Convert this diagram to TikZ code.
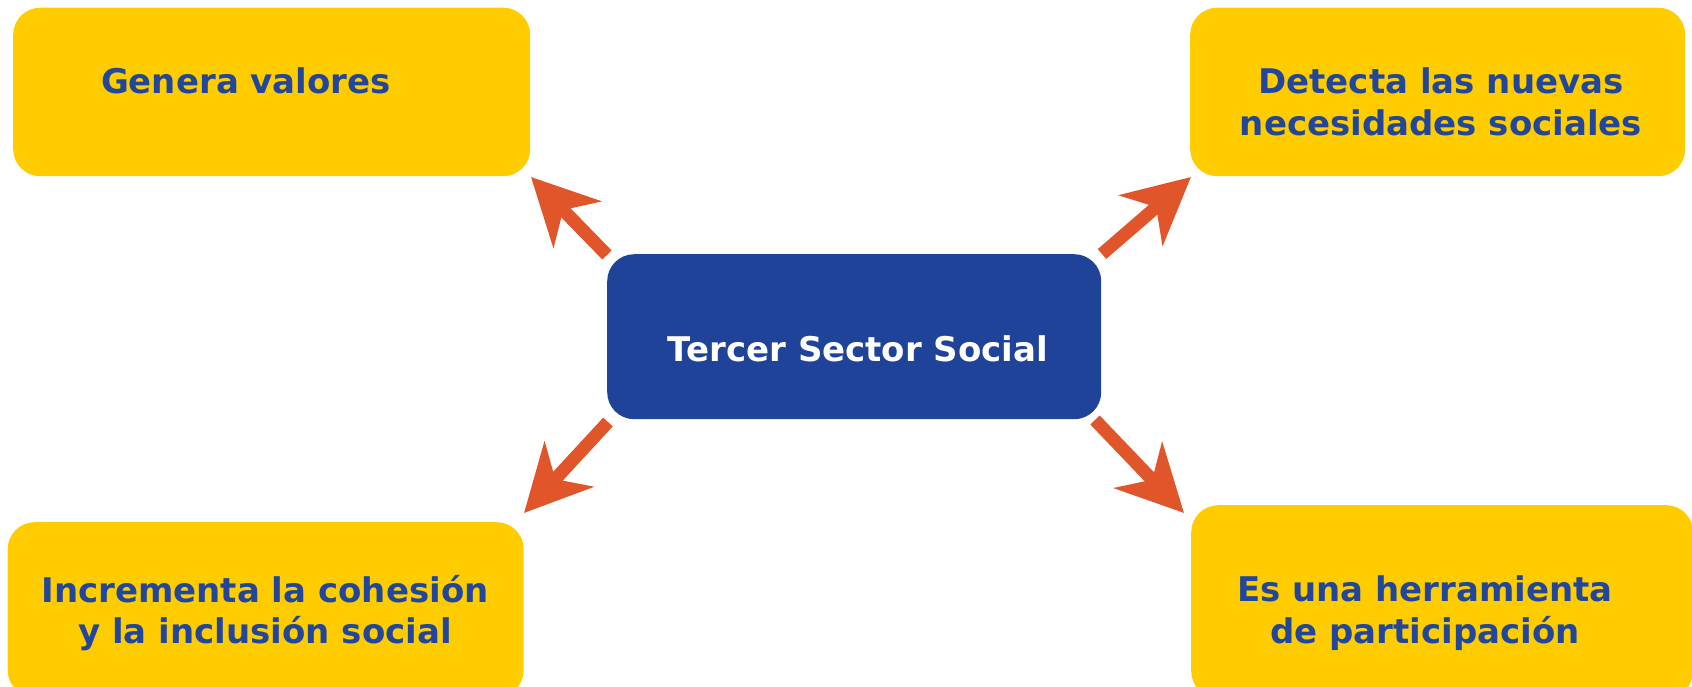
\documentclass[tikz,border=0pt]{standalone}
\usepackage{fontspec}
\setmainfont{DejaVu Sans}
\usetikzlibrary{arrows.meta}
\definecolor{boxyellow}{HTML}{FFCC00}
\definecolor{boxblue}{HTML}{1E4398}
\definecolor{txtblue}{HTML}{22479A}
\definecolor{arroworange}{HTML}{E0552A}
\begin{document}
\begin{tikzpicture}[x=1pt,y=-1pt,
  ybox/.style={fill=boxyellow, rounded corners=27pt, inner sep=0pt, anchor=north west},
  bbox/.style={fill=boxblue, rounded corners=27pt, inner sep=0pt, anchor=north west},
  txt/.style={text=txtblue, font=\bfseries\fontsize{34}{41.5}\selectfont, align=center, inner sep=0pt},
  wtxt/.style={text=white, font=\bfseries\fontsize{34}{41.5}\selectfont, align=center, inner sep=0pt},
  arr/.style={draw=arroworange, line width=13pt, -{Stealth[length=66pt,width=66pt,inset=20pt]}}]
\useasboundingbox (0,0) rectangle (1692,686);
\clip (0,0) rectangle (1692,686);
% boxes
\node[ybox, minimum width=517pt, minimum height=168.5pt] (tl) at (13,7.5) {};
\node[ybox, minimum width=495pt, minimum height=168.5pt] (tr) at (1190,7.5) {};
\node[bbox, minimum width=494pt, minimum height=165pt] (c) at (607,254) {};
\node[ybox, minimum width=516pt, minimum height=175pt] (bl) at (7.5,522) {};
\node[ybox, minimum width=502pt, minimum height=193pt] (br) at (1191,505) {};
% texts
\node[txt] (tltxt) at (246,81) {Genera valores};
\node[txt] (trtxt) at (1441,102) {Detecta las nuevas\\necesidades sociales};
\node[wtxt] (ctxt) at (858,349) {Tercer Sector Social};
\node[txt] (bltxt) at (265,613) {Incrementa la cohesión\\y la inclusión social};
\node[txt] (brtxt) at (1425,613) {Es una herramienta\\de participación};
% arrow ends
\coordinate (tlTail) at (607,255); \coordinate (tlTip) at (531,177);
\coordinate (trTail) at (1102,254); \coordinate (trTip) at (1191,177);
\coordinate (blTail) at (608,422); \coordinate (blTip) at (524,513);
\coordinate (brTail) at (1095,420); \coordinate (brTip) at (1184,513);
\draw[arr] (tlTail) -- (tlTip);
\draw[arr] (trTail) -- (trTip);
\draw[arr] (blTail) -- (blTip);
\draw[arr] (brTail) -- (brTip);
\end{tikzpicture}
\end{document}
